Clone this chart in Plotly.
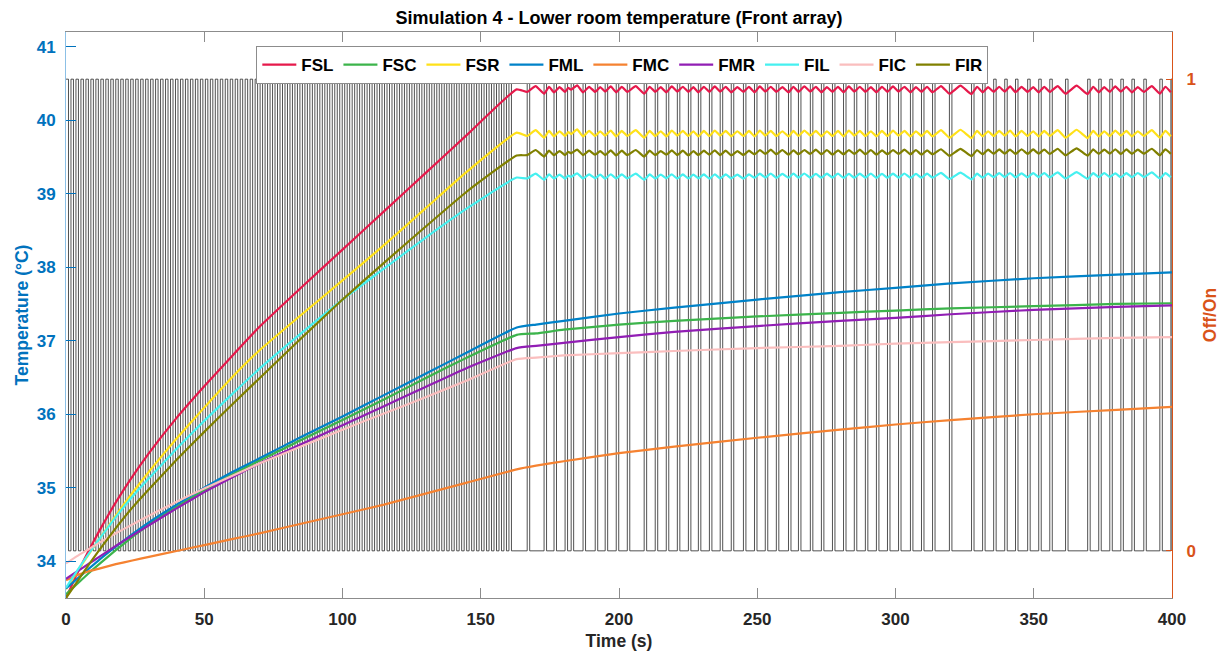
import plotly.graph_objects as go

# ---------------------------------------------------------------- data
# warm-up phase sample times (s)
t_rise = [0, 4, 8, 12, 18, 24, 30, 40, 50, 60, 70, 85, 100, 115, 130, 145, 163]

fsl_rise = [33.50, 33.83, 34.13, 34.41, 34.80, 35.15, 35.47, 35.95, 36.38, 36.79,
            37.19, 37.72, 38.24, 38.76, 39.28, 39.80, 40.42]
fsc_rise = [33.55, 33.69, 33.83, 33.96, 34.15, 34.33, 34.50, 34.74, 34.97, 35.18,
            35.37, 35.65, 35.92, 36.20, 36.49, 36.77, 37.08]
fsr_rise = [33.62, 33.86, 34.08, 34.30, 34.62, 34.93, 35.22, 35.67, 36.09, 36.50,
            36.87, 37.35, 37.82, 38.30, 38.80, 39.30, 39.83]
fml_rise = [33.63, 33.76, 33.89, 34.02, 34.20, 34.37, 34.53, 34.77, 35.00, 35.21,
            35.40, 35.69, 35.97, 36.26, 36.55, 36.84, 37.18]
fmc_rise = [33.74, 33.81, 33.86, 33.90, 33.96, 34.01, 34.06, 34.14, 34.22, 34.30,
            34.38, 34.51, 34.64, 34.77, 34.92, 35.07, 35.25]
fmr_rise = [33.76, 33.86, 33.96, 34.06, 34.21, 34.35, 34.49, 34.72, 34.94, 35.14,
            35.33, 35.59, 35.85, 36.11, 36.37, 36.63, 36.90]
fil_rise = [33.64, 33.87, 34.09, 34.30, 34.60, 34.88, 35.13, 35.53, 35.91, 36.27,
            36.62, 37.10, 37.56, 37.98, 38.40, 38.80, 39.22]
fic_rise = [33.97, 34.07, 34.16, 34.25, 34.38, 34.50, 34.62, 34.81, 34.99, 35.16,
            35.33, 35.56, 35.79, 36.01, 36.23, 36.46, 36.75]
fir_rise = [33.50, 33.72, 33.94, 34.15, 34.45, 34.73, 34.98, 35.38, 35.76, 36.13,
            36.49, 37.03, 37.56, 38.06, 38.55, 39.03, 39.52]

# regulation phase, slowly rising sensors
t_late = [170, 180, 200, 220, 250, 280, 300, 320, 350, 380, 400]
fsc_late = [37.10, 37.15, 37.22, 37.27, 37.33, 37.38, 37.41, 37.44, 37.47, 37.50, 37.51]
fml_late = [37.22, 37.27, 37.37, 37.45, 37.56, 37.66, 37.72, 37.78, 37.85, 37.90, 37.93]
fmc_late = [35.30, 35.36, 35.47, 35.56, 35.68, 35.79, 35.86, 35.92, 36.00, 36.06, 36.10]
fmr_late = [36.93, 36.97, 37.05, 37.12, 37.20, 37.27, 37.31, 37.36, 37.42, 37.46, 37.48]
fic_late = [36.77, 36.80, 36.83, 36.86, 36.90, 36.93, 36.96, 36.98, 37.01, 37.04, 37.05]

# heater pulses during regulation (start times, s)
pulse_times = [166.8, 172.9, 176.5, 180.5, 182.7, 187.0, 191.4, 195.0, 199.0, 203.0,
               209.1, 213.1, 217.1, 221.1, 225.1, 228.7, 232.7, 236.6, 240.6, 245.0,
               249.0, 252.9, 256.9, 261.3, 264.9, 269.2, 273.2, 277.2, 281.2, 285.1,
               289.1, 293.1, 297.1, 301.1, 305.4, 309.4, 313.4, 319.5, 327.5, 331.5,
               335.5, 339.5, 343.4, 347.8, 351.8, 355.8, 361.5, 369.5, 373.5, 377.5,
               381.5, 385.5, 389.8, 395.6, 399.6]
pulse_width = 0.9

# regulated sensors: value at each pulse start (trough) and between pulses (crest)
fsl_trough = [40.385, 40.36, 40.38, 40.385, 40.415, 40.38, 40.385, 40.39, 40.38, 40.385,
              40.36, 40.385, 40.38, 40.39, 40.385, 40.38, 40.385, 40.39, 40.38, 40.385,
              40.38, 40.39, 40.385, 40.38, 40.385, 40.39, 40.38, 40.385, 40.38, 40.39,
              40.385, 40.38, 40.385, 40.39, 40.38, 40.385, 40.38, 40.36, 40.355, 40.38,
              40.385, 40.39, 40.38, 40.385, 40.38, 40.385, 40.36, 40.355, 40.38, 40.385,
              40.39, 40.38, 40.385, 40.36, 40.38]
fsl_crest = [40.465, 40.455, 40.45, 40.44, 40.475, 40.455, 40.45, 40.46, 40.455, 40.465,
             40.455, 40.45, 40.46, 40.455, 40.45, 40.455, 40.46, 40.455, 40.45, 40.455,
             40.46, 40.455, 40.45, 40.455, 40.46, 40.455, 40.45, 40.455, 40.46, 40.455,
             40.45, 40.455, 40.46, 40.455, 40.45, 40.455, 40.465, 40.47, 40.455, 40.45,
             40.455, 40.46, 40.455, 40.45, 40.455, 40.465, 40.47, 40.455, 40.45, 40.46,
             40.455, 40.45, 40.465, 40.455]

fsr_trough = [39.785, 39.762, 39.78, 39.785, 39.812, 39.78, 39.785, 39.79, 39.78, 39.785,
              39.762, 39.785, 39.78, 39.79, 39.785, 39.78, 39.785, 39.79, 39.78, 39.785,
              39.78, 39.79, 39.785, 39.78, 39.785, 39.79, 39.78, 39.785, 39.78, 39.79,
              39.785, 39.78, 39.785, 39.79, 39.78, 39.785, 39.78, 39.762, 39.757, 39.78,
              39.785, 39.79, 39.78, 39.785, 39.78, 39.785, 39.762, 39.757, 39.78, 39.785,
              39.79, 39.78, 39.785, 39.762, 39.78]
fsr_crest = [39.865, 39.855, 39.85, 39.84, 39.875, 39.855, 39.85, 39.86, 39.855, 39.865,
             39.855, 39.85, 39.86, 39.855, 39.85, 39.855, 39.86, 39.855, 39.85, 39.855,
             39.86, 39.855, 39.85, 39.855, 39.86, 39.855, 39.85, 39.855, 39.86, 39.855,
             39.85, 39.855, 39.86, 39.855, 39.85, 39.855, 39.865, 39.87, 39.855, 39.85,
             39.855, 39.86, 39.855, 39.85, 39.855, 39.865, 39.87, 39.855, 39.85, 39.86,
             39.855, 39.85, 39.865, 39.855]

fil_trough = [39.207, 39.19, 39.207, 39.205, 39.23, 39.207, 39.21, 39.205, 39.207, 39.21,
              39.19, 39.207, 39.21, 39.205, 39.207, 39.21, 39.205, 39.207, 39.21, 39.205,
              39.217, 39.22, 39.215, 39.217, 39.22, 39.215, 39.217, 39.22, 39.215, 39.217,
              39.22, 39.215, 39.217, 39.22, 39.215, 39.217, 39.22, 39.20, 39.195, 39.217,
              39.224, 39.227, 39.222, 39.224, 39.227, 39.222, 39.207, 39.202, 39.224, 39.227,
              39.222, 39.224, 39.227, 39.207, 39.224]
fil_crest = [39.273, 39.263, 39.26, 39.247, 39.277, 39.263, 39.26, 39.265, 39.263, 39.273,
             39.263, 39.26, 39.265, 39.263, 39.26, 39.263, 39.265, 39.263, 39.26, 39.263,
             39.273, 39.275, 39.27, 39.273, 39.275, 39.27, 39.273, 39.275, 39.27, 39.273,
             39.275, 39.27, 39.273, 39.275, 39.27, 39.273, 39.283, 39.287, 39.273, 39.275,
             39.28, 39.282, 39.278, 39.28, 39.282, 39.29, 39.294, 39.28, 39.282, 39.278,
             39.28, 39.282, 39.29, 39.28]

fir_trough = [39.525, 39.505, 39.525, 39.525, 39.55, 39.525, 39.53, 39.525, 39.52, 39.525,
              39.505, 39.525, 39.53, 39.525, 39.52, 39.525, 39.53, 39.525, 39.52, 39.525,
              39.535, 39.54, 39.535, 39.53, 39.535, 39.54, 39.535, 39.53, 39.535, 39.54,
              39.535, 39.53, 39.535, 39.54, 39.535, 39.53, 39.535, 39.515, 39.51, 39.535,
              39.542, 39.545, 39.54, 39.542, 39.545, 39.54, 39.522, 39.517, 39.542, 39.545,
              39.54, 39.542, 39.545, 39.522, 39.542]
fir_crest = [39.595, 39.585, 39.58, 39.57, 39.60, 39.585, 39.58, 39.59, 39.585, 39.595,
             39.585, 39.58, 39.59, 39.585, 39.58, 39.585, 39.59, 39.585, 39.58, 39.585,
             39.595, 39.60, 39.595, 39.59, 39.595, 39.60, 39.595, 39.59, 39.595, 39.60,
             39.595, 39.59, 39.595, 39.60, 39.595, 39.59, 39.605, 39.61, 39.595, 39.60,
             39.602, 39.60, 39.605, 39.602, 39.60, 39.612, 39.617, 39.602, 39.60, 39.605,
             39.602, 39.60, 39.612, 39.602]

# heater state in the warm-up phase, one character per 0.9 s sample
heater_dt = 0.9
heater_bits = ("101010101010101010101010101010101010101010101010101010101010"
               "101010101010101010101010101010101010101010101010101010101010"
               "101010101010101010101010101010101010101010101010101010101010")

names = ["FSL", "FSC", "FSR", "FML", "FMC", "FMR", "FIL", "FIC", "FIR"]
colors = ["#E6194B", "#3CB44B", "#FFE119", "#0082C8", "#F58231",
          "#911EB4", "#46F0F0", "#FABEBE", "#808000"]

# ---------------------------------------------------------------- helpers
def regulated(trough, crest):
    """Interleave pulse-start and mid-interval samples."""
    xs, ys = [], []
    for i, p in enumerate(pulse_times):
        xs.append(p)
        ys.append(trough[i])
        if i < len(crest):
            xs.append(0.5 * (p + pulse_times[i + 1]))
            ys.append(crest[i])
    return xs, ys


def heater_signal():
    xs, ys = [], []
    for i, b in enumerate(heater_bits):
        xs.append(i * heater_dt)
        ys.append(int(b))
    xs.append(len(heater_bits) * heater_dt)
    ys.append(0)
    for p in pulse_times:
        xs += [p, min(p + pulse_width, 400.0)]
        ys += [1, 0]
    return xs, ys


series = {
    "FSL": (t_rise, fsl_rise, *regulated(fsl_trough, fsl_crest)),
    "FSC": (t_rise, fsc_rise, t_late, fsc_late),
    "FSR": (t_rise, fsr_rise, *regulated(fsr_trough, fsr_crest)),
    "FML": (t_rise, fml_rise, t_late, fml_late),
    "FMC": (t_rise, fmc_rise, t_late, fmc_late),
    "FMR": (t_rise, fmr_rise, t_late, fmr_late),
    "FIL": (t_rise, fil_rise, *regulated(fil_trough, fil_crest)),
    "FIC": (t_rise, fic_rise, t_late, fic_late),
    "FIR": (t_rise, fir_rise, *regulated(fir_trough, fir_crest)),
}

# ---------------------------------------------------------------- figure
fig = go.Figure()

hx, hy = heater_signal()
fig.add_trace(go.Scatter(x=hx, y=hy, mode="lines", line_shape="hv",
                         line=dict(color="#262626", width=0.8),
                         showlegend=False, yaxis="y", hoverinfo="skip"))

for name, color in zip(names, colors):
    t1, v1, t2, v2 = series[name]
    fig.add_trace(go.Scatter(x=list(t1) + list(t2), y=list(v1) + list(v2),
                             mode="lines", name=name, yaxis="y2",
                             line=dict(color=color, width=2.2, shape="spline",
                                       smoothing=0.4)))

FONT = "Liberation Sans, Arial, Helvetica, sans-serif"
BLUE = "#0072BD"
ORANGE = "#D95319"
GREY = "#8c8c8c"

fig.update_layout(
    width=1222, height=655,
    margin=dict(l=66, r=50, t=32, b=57),
    paper_bgcolor="white", plot_bgcolor="white",
    font=dict(family=FONT, size=16, color="#262626"),
    title=dict(text="Simulation 4 - Lower room temperature (Front array)",
               x=0.5, xref="paper", xanchor="center",
               y=1 - 18 / 655, yref="container", yanchor="middle",
               font=dict(family=FONT, size=18, color="#000000", weight="bold")),
    xaxis=dict(range=[0, 400], tickvals=[0, 50, 100, 150, 200, 250, 300, 350, 400],
               ticks="inside", ticklen=10, tickcolor=GREY, tickwidth=1,
               showline=True, linecolor=GREY, linewidth=1, mirror="ticks",
               showgrid=False, zeroline=False, ticklabelstandoff=6, automargin=False,
               tickfont=dict(family=FONT, size=17, color="#262626", weight="bold"),
               title=dict(text="Time (s)", standoff=6,
                          font=dict(family=FONT, size=17.5, color="#262626", weight="bold"))),
    yaxis=dict(range=[-0.1, 1.1], side="right", tickvals=[0, 1],
               ticks="inside", ticklen=6, tickcolor=ORANGE,
               showline=True, linecolor=ORANGE, linewidth=1,
               showgrid=False, zeroline=False, ticklabelstandoff=10, automargin=False,
               tickfont=dict(family=FONT, size=17, color=ORANGE, weight="bold"),
               title=dict(text="Off/On", standoff=8,
                          font=dict(family=FONT, size=17.5, color=ORANGE, weight="bold"))),
    yaxis2=dict(range=[33.5, 41.2], overlaying="y", side="left",
                tickvals=[34, 35, 36, 37, 38, 39, 40, 41],
                ticks="inside", ticklen=10, tickcolor=BLUE,
                showline=True, linecolor="#8cc0e6", linewidth=1,
                showgrid=False, zeroline=False, ticklabelstandoff=6, automargin=False,
                tickfont=dict(family=FONT, size=17, color=BLUE, weight="bold"),
                title=dict(text="Temperature (°C)", standoff=3,
                           font=dict(family=FONT, size=17.5, color=BLUE, weight="bold"))),
    legend=dict(orientation="h", x=0.503, xanchor="center", y=0.975, yanchor="top",
                bgcolor="white", bordercolor=GREY, borderwidth=1, itemwidth=34,
                font=dict(family=FONT, size=17, color="#000000", weight="bold"),
                tracegroupgap=0),
)

fig.write_html("out.html")
